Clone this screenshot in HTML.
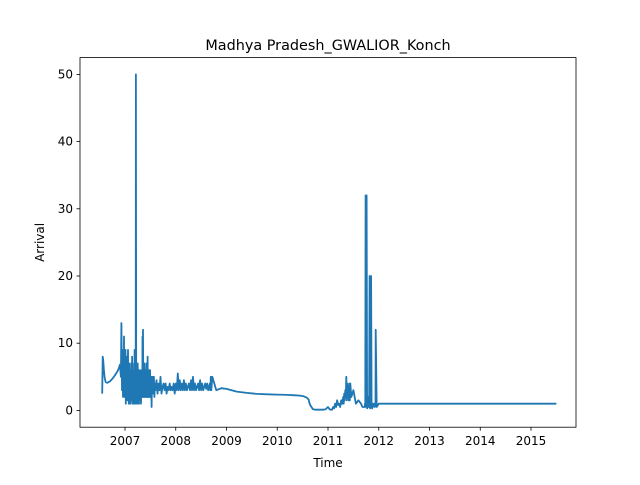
<!DOCTYPE html>
<html><head><meta charset="utf-8"><style>
body{margin:0;background:#fff}
svg text{font-family:"DejaVu Sans","Liberation Sans",sans-serif;fill:#000}
</style></head><body>
<svg id="chart" width="640" height="480" xmlns="http://www.w3.org/2000/svg">
<rect width="640" height="480" fill="#fff"/>
<text x="328" y="50" font-size="14.4" text-anchor="middle">Madhya Pradesh_GWALIOR_Konch</text>
<text x="328" y="467" font-size="12" text-anchor="middle">Time</text>
<text transform="translate(44,242.4) rotate(-90)" font-size="12" text-anchor="middle">Arrival</text>
<g id="ticks"></g>
<path id="line" fill="none" stroke="#1f77b4" stroke-width="1.8" stroke-linejoin="round"/>
<rect x="80" y="57.6" width="496" height="369.6" fill="none" stroke="#000" stroke-width="0.8"/>
</svg>
<script>
const dates=[2006.55,2006.56,2006.57,2006.585,2006.6,2006.62,2006.65,2006.7,2006.75,2006.8,2006.85,2006.88,2006.9,
2006.92,2006.93,2006.94,2006.945,2006.95,2006.955,2006.96,2006.965,2006.97,2006.975,2006.98,2006.985,2006.99,2006.995,2007.0,2007.005,2007.01,2007.015,2007.02,2007.025,2007.03,2007.035,2007.04,2007.045,2007.05,2007.055,2007.06,2007.065,2007.07,2007.075,2007.08,2007.085,2007.09,2007.095,2007.1,2007.105,2007.11,2007.115,2007.12,2007.125,2007.13,2007.135,2007.14,2007.145,2007.15,2007.155,2007.16,2007.165,2007.17,2007.175,2007.18,2007.185,2007.19,2007.195,2007.2,2007.21,2007.215,2007.22,2007.225,2007.23,2007.235,2007.24,2007.245,2007.25,2007.255,2007.26,2007.265,2007.27,2007.275,2007.28,2007.285,2007.29,2007.295,2007.3,2007.305,2007.31,2007.315,2007.32,2007.325,2007.33,2007.335,2007.34,2007.345,2007.35,2007.355,2007.36,2007.365,2007.37,2007.375,2007.38,2007.385,2007.39,2007.395,2007.4,2007.405,2007.41,2007.415,2007.42,2007.425,2007.43,2007.435,2007.44,2007.445,2007.45,2007.455,2007.46,2007.465,2007.47,2007.475,2007.48,2007.485,2007.49,2007.495,2007.5,2007.505,2007.51,2007.515,2007.52,2007.525,2007.53,2007.535,2007.54,2007.545,2007.55,2007.56,2007.57,2007.58,2007.59,2007.6,2007.62,2007.64,2007.66,2007.68,2007.7,2007.72,2007.74,2007.76,2007.78,2007.8,2007.82,2007.84,2007.86,2007.88,2007.9,2007.92,2007.94,2007.96,2007.98,2008.0,2008.02,2008.04,2008.06,2008.08,2008.1,2008.12,2008.14,2008.16,2008.18,2008.2,2008.22,2008.24,2008.26,2008.28,2008.3,2008.32,2008.34,2008.36,2008.38,2008.4,2008.42,2008.44,2008.46,2008.48,2008.5,2008.52,2008.54,2008.56,2008.58,2008.6,2008.62,2008.64,2008.66,2008.67,2008.68,2008.69,2008.7,2008.72,2008.8,2008.9,2009.0,2009.1,2009.2,2009.4,2009.6,2009.8,2010.0,2010.2,2010.35,2010.45,2010.52,2010.58,2010.62,2010.63,2010.65,2010.7,2010.75,2010.8,2010.85,2010.9,2010.95,2011.0,2011.03,2011.05,2011.08,2011.1,2011.12,2011.14,2011.16,2011.18,2011.2,2011.22,2011.24,2011.26,2011.28,2011.3,2011.31,2011.32,2011.33,2011.34,2011.35,2011.36,2011.37,2011.38,2011.39,2011.4,2011.41,2011.42,2011.43,2011.44,2011.46,2011.5,2011.55,2011.6,2011.65,2011.68,2011.7,2011.72,2011.725,2011.73,2011.735,2011.74,2011.75,2011.76,2011.77,2011.78,2011.79,2011.8,2011.805,2011.81,2011.82,2011.83,2011.84,2011.85,2011.86,2011.87,2011.88,2011.9,2011.91,2011.92,2011.93,2011.935,2011.94,2011.96,2012.0,2013.0,2014.0,2015.0,2015.5];
const values=[2.5,8,7.5,6,4.8,4.2,4.1,4.3,4.7,5.2,5.8,6.3,6.8,
5,13,3,8,4,7,2,9,5,3,11,4,8,2,6,3,9,1,7,3,5,2,8,1.5,6,3,9,2,5,1,7,2,6,3,5,1,4,2,7,1.5,5,3,8,1,6,2,5,1,4,2,7,3,9,1,5,2,50,1,3,6,1.5,5,2,7,1,4,2,6,1,5,2.5,4,1.5,6,2,5,1,4,2,3,6,2,11,3,12,2,6,3,5,2,7,3,4,2,6,3,5,2,7,3,4,2,8,3,5,2,6,3,4,2,5,3,6,2,4,3,5,2,0.5,4,3,5,2.5,4,3,5,2,4,3,4.5,2.5,4,3,5,2.5,3.5,4,3,4,2.5,3.5,3,4,3,3.5,3,4,2.5,4,3,5.5,3,4.5,3,4,3,4.5,3,4,3,3.5,4,3,4.5,3,5,3,4,3,3.5,4,3,4.5,3,4,3,3.5,4,3.2,4,3,3.5,4,3,5,3,5,3,3.3,3.2,3.0,2.8,2.6,2.45,2.4,2.35,2.3,2.25,2.2,2.1,1.9,1.6,1.2,0.8,0.2,0.1,0.1,0.1,0.1,0.15,0.5,0.2,0.1,0.1,0.5,0.3,1,0.5,1.5,0.8,1,0.5,1.5,1,2,1,2.5,1.5,3,2,5,1.5,4,2,3,1.5,4,1.5,4,2,3,1,1.5,1,0.5,0.5,0.5,0.5,1,0.5,32,31,32,0.3,1,2,0.5,1,0.5,20,0.3,1,20,0.5,0.3,1,0.6,1,0.5,1,0.6,12,0.5,1,1,1,1,1,1,1,1];
const yTicks=[0,10,20,30,40,50];
const xTicks=[2007,2008,2009,2010,2011,2012,2013,2014,2015];
const sx=v=>125+(v-2007)*50.75;
const sy=v=>410.4-v*6.72;
let d='';
const n=Math.min(dates.length,values.length);
for(let i=0;i<n;i++){d+=(i?'L':'M')+sx(dates[i]).toFixed(1)+','+sy(values[i]).toFixed(1);}
document.getElementById('line').setAttribute('d',d);
const g=document.getElementById('ticks');
const NS='http://www.w3.org/2000/svg';
yTicks.forEach(t=>{
const l=document.createElementNS(NS,'line');
l.setAttribute('x1',76.5);l.setAttribute('x2',80);l.setAttribute('y1',sy(t));l.setAttribute('y2',sy(t));l.setAttribute('stroke','#000');l.setAttribute('stroke-width','0.8');


g.appendChild(l);
const tx=document.createElementNS(NS,'text');
tx.setAttribute('x',73);tx.setAttribute('y',sy(t)+4);tx.setAttribute('font-size','12');tx.setAttribute('text-anchor','end');tx.textContent=t;


g.appendChild(tx);
});
xTicks.forEach(t=>{
const l=document.createElementNS(NS,'line');
l.setAttribute('x1',sx(t));l.setAttribute('x2',sx(t));l.setAttribute('y1',427.2);l.setAttribute('y2',430.7);l.setAttribute('stroke','#000');l.setAttribute('stroke-width','0.8');


g.appendChild(l);
const tx=document.createElementNS(NS,'text');
tx.setAttribute('x',sx(t));tx.setAttribute('y',445);tx.setAttribute('font-size','12');tx.setAttribute('text-anchor','middle');tx.textContent=t;


g.appendChild(tx);
});
</script>
</body></html>
